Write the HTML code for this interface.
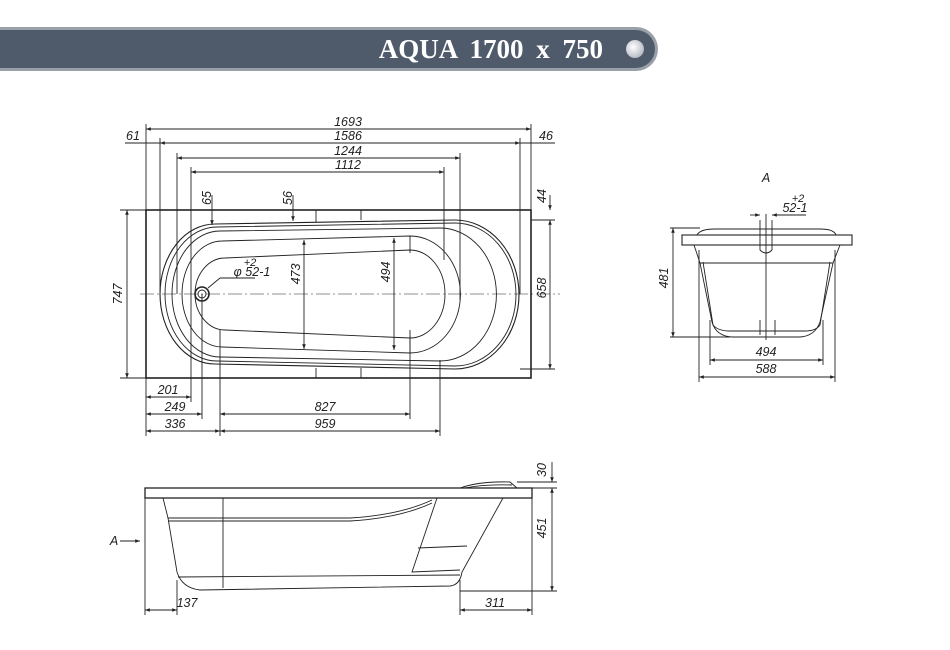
<!DOCTYPE html>
<html><head><meta charset="utf-8"><style>
html,body{margin:0;padding:0;background:#fff;width:950px;height:650px;overflow:hidden}
svg{display:block}
.t{font-family:"Liberation Sans",sans-serif;font-style:italic;font-size:12.5px;fill:#222}
</style></head><body>
<svg width="950" height="650" viewBox="0 0 950 650" xmlns="http://www.w3.org/2000/svg">
<defs>
<radialGradient id="g" cx="0.4" cy="0.4" r="0.6"><stop offset="0" stop-color="#fff"/><stop offset="1" stop-color="#b8bcc4"/></radialGradient>
<marker id="a" viewBox="0 0 8 6" refX="8" refY="3" markerWidth="6" markerHeight="4" orient="auto-start-reverse"><path d="M0,0L8,3L0,6z" fill="#222"/></marker>
</defs>
<path d="M0,27 H636 A22,22 0 0 1 636,71 H0 Z" fill="#9aa0aa"/>
<path d="M0,30 H636 A19,19 0 0 1 636,68 H0 Z" fill="#4f5a6b"/>
<text x="603" y="58" text-anchor="end" font-family="Liberation Serif,serif" font-weight="bold" font-size="27" word-spacing="6" fill="#fff">AQUA 1700 x 750</text>
<circle cx="635" cy="49" r="9" fill="url(#g)"/>

<g stroke="#222" fill="none" stroke-width="0.9">
<rect x="146" y="210" width="385" height="168" stroke-width="1.6"/>
<line x1="140" y1="294" x2="560" y2="294" stroke-dasharray="14,3,2,3" stroke-width="0.6"/>
<line x1="146" y1="124" x2="146" y2="436"/><line x1="531" y1="124" x2="531" y2="210"/>
<line x1="160" y1="138" x2="160" y2="294"/><line x1="520" y1="138" x2="520" y2="294"/>
<line x1="177" y1="153" x2="177" y2="294"/><line x1="460" y1="153" x2="460" y2="300"/>
<line x1="191" y1="167" x2="191" y2="402"/><line x1="444" y1="167" x2="444" y2="260"/>
<line x1="202" y1="294" x2="202" y2="419"/><line x1="220" y1="330" x2="220" y2="436"/>
<line x1="410" y1="330" x2="410" y2="419"/><line x1="440" y1="360" x2="440" y2="436"/>
<line x1="316" y1="210" x2="316" y2="222"/><line x1="361" y1="210" x2="361" y2="220"/>
<line x1="316" y1="368" x2="316" y2="378"/><line x1="361" y1="368" x2="361" y2="378"/>
<line x1="146" y1="129" x2="531" y2="129" marker-start="url(#a)" marker-end="url(#a)"/>
<line x1="125" y1="143" x2="555" y2="143"/>
<line x1="160" y1="143" x2="520" y2="143" marker-start="url(#a)" marker-end="url(#a)"/>
<line x1="177" y1="158" x2="460" y2="158" marker-start="url(#a)" marker-end="url(#a)"/>
<line x1="191" y1="172" x2="444" y2="172" marker-start="url(#a)" marker-end="url(#a)"/>
<line x1="120" y1="210" x2="146" y2="210"/><line x1="120" y1="378" x2="146" y2="378"/>
<line x1="127" y1="210" x2="127" y2="378" marker-start="url(#a)" marker-end="url(#a)"/>
<line x1="531" y1="220" x2="555" y2="220"/><line x1="520" y1="369" x2="555" y2="369"/>
<line x1="550" y1="220" x2="550" y2="369" marker-start="url(#a)" marker-end="url(#a)"/>
<line x1="550" y1="195" x2="550" y2="210" marker-end="url(#a)"/>
<line x1="212" y1="195" x2="212" y2="225" marker-end="url(#a)"/>
<line x1="293" y1="195" x2="293" y2="221" marker-end="url(#a)"/>
<line x1="146" y1="397" x2="191" y2="397" marker-start="url(#a)" marker-end="url(#a)"/>
<line x1="146" y1="414" x2="202" y2="414" marker-start="url(#a)" marker-end="url(#a)"/>
<line x1="146" y1="431" x2="220" y2="431" marker-start="url(#a)" marker-end="url(#a)"/>
<line x1="220" y1="414" x2="410" y2="414" marker-start="url(#a)" marker-end="url(#a)"/>
<line x1="220" y1="431" x2="440" y2="431" marker-start="url(#a)" marker-end="url(#a)"/>
<line x1="304" y1="240" x2="304" y2="349" marker-start="url(#a)" marker-end="url(#a)"/>
<line x1="394" y1="238" x2="394" y2="350" marker-start="url(#a)" marker-end="url(#a)"/>
<path d="M215,224 L455,220 A64,74.5 0 0 1 455,369 L215,364 A55,70 0 0 1 215,224Z" stroke-width="1.1"/>
<path d="M217,227 L455,223 A61,71.5 0 0 1 455,366 L217,361 A52,67 0 0 1 217,227Z"/>
<path d="M220,231 L440,228 A56,66 0 0 1 440,361 L220,357 A48,63 0 0 1 220,231Z"/>
<path d="M222,241 L410,236 A50,58 0 0 1 410,353 L222,347 A40,53 0 0 1 222,241Z"/>
<path d="M225,258 L410,250 A35,44 0 0 1 410,338 L225,330 A30,36 0 0 1 225,258Z"/>
<line x1="410" y1="236" x2="410" y2="253"/><line x1="410" y1="336" x2="410" y2="353"/>
<circle cx="202" cy="294" r="7" stroke-width="1.6"/><circle cx="202" cy="294" r="4"/>
<line x1="208" y1="288" x2="220" y2="278"/><line x1="220" y1="278" x2="255" y2="278"/>
<line x1="766" y1="214" x2="766" y2="340"/>
<rect x="682" y="235" width="170" height="10" stroke-width="1.1"/>
<path d="M697,235 Q700,229 715,229 L820,229 Q834,229 836,235"/>
<path d="M694,245 L700,263 L712,322 Q716,336 732,337 L800,337 Q815,336 820,322 L833,263 L840,245"/>
<path d="M700,263 L833,263 M703,262 L713,325 Q718,331 730,331 L805,331 Q816,331 820,325 L830,262"/>
<path d="M760,320 L760,335 M775,320 L775,335"/>
<path d="M760,220 L760,250 Q766,256 772,250 L772,220"/>
<line x1="750" y1="215" x2="760" y2="215" marker-end="url(#a)"/><line x1="782" y1="215" x2="772" y2="215" marker-end="url(#a)"/>
<line x1="772" y1="215" x2="806" y2="215"/>
<line x1="670" y1="228" x2="700" y2="228"/><line x1="670" y1="337" x2="730" y2="337"/>
<line x1="673" y1="228" x2="673" y2="337" marker-start="url(#a)" marker-end="url(#a)"/>
<line x1="710" y1="320" x2="710" y2="365"/><line x1="823" y1="320" x2="823" y2="365"/>
<line x1="699" y1="250" x2="699" y2="382"/><line x1="835" y1="250" x2="835" y2="382"/>
<line x1="710" y1="360" x2="823" y2="360" marker-start="url(#a)" marker-end="url(#a)"/>
<line x1="699" y1="377" x2="835" y2="377" marker-start="url(#a)" marker-end="url(#a)"/>
<rect x="145" y="488" width="387" height="10" stroke-width="1.3"/>
<path d="M460,488 Q480,481 510,482 L517,488" />
<path d="M465,488 Q485,484 512,485"/>
<path d="M163,498 L168,518 L177,572 Q182,588 200,590 L450,586 Q460,585 462,572 L503,498"/>
<path d="M168,518 L350,518 Q400,515 432,500 M168,521 L350,521 Q400,518 432,503"/>
<path d="M437,498 L412,572 L460,570 M418,548 L467,546"/>
<line x1="223" y1="498" x2="223" y2="588"/>
<line x1="178" y1="577" x2="460" y2="575"/>
<line x1="145" y1="498" x2="145" y2="615"/><line x1="177" y1="580" x2="177" y2="615"/>
<line x1="460" y1="580" x2="460" y2="615"/><line x1="532" y1="498" x2="532" y2="615"/>
<line x1="145" y1="610" x2="177" y2="610" marker-start="url(#a)" marker-end="url(#a)"/>
<line x1="460" y1="610" x2="532" y2="610" marker-start="url(#a)" marker-end="url(#a)"/>
<line x1="517" y1="482" x2="557" y2="482"/><line x1="532" y1="488" x2="557" y2="488"/><line x1="460" y1="591" x2="557" y2="591"/>
<line x1="552" y1="462" x2="552" y2="482" marker-end="url(#a)"/>
<line x1="552" y1="488" x2="552" y2="591" marker-start="url(#a)" marker-end="url(#a)"/>
<line x1="120" y1="541" x2="140" y2="541" marker-end="url(#a)"/>
</g>
<g class="t" text-anchor="middle">
<text x="348" y="126">1693</text><text x="348" y="140">1586</text>
<text x="348" y="155">1244</text><text x="348" y="169">1112</text>
<text x="133" y="140">61</text><text x="546" y="140">46</text>
<text x="168" y="394">201</text><text x="175" y="411">249</text><text x="175" y="428">336</text>
<text x="325" y="411">827</text><text x="325" y="428">959</text>
<text x="252" y="276">φ 52-1</text><text x="250" y="266" font-size="11">+2</text>
<text x="766" y="182">A</text><text x="798" y="202" font-size="11">+2</text><text x="795" y="212">52-1</text>
<text x="766" y="356">494</text><text x="766" y="373">588</text>
<text x="187" y="607">137</text><text x="495" y="607">311</text>
<text x="114" y="545">A</text>
<text transform="translate(122,294) rotate(-90)">747</text>
<text transform="translate(546,288) rotate(-90)">658</text>
<text transform="translate(211,198) rotate(-90)">65</text>
<text transform="translate(292,198) rotate(-90)">56</text>
<text transform="translate(546,196) rotate(-90)">44</text>
<text transform="translate(300,274) rotate(-90)">473</text>
<text transform="translate(390,272) rotate(-90)">494</text>
<text transform="translate(668,278) rotate(-90)">481</text>
<text transform="translate(546,470) rotate(-90)">30</text>
<text transform="translate(546,528) rotate(-90)">451</text>
</g>
</svg>
</body></html>
